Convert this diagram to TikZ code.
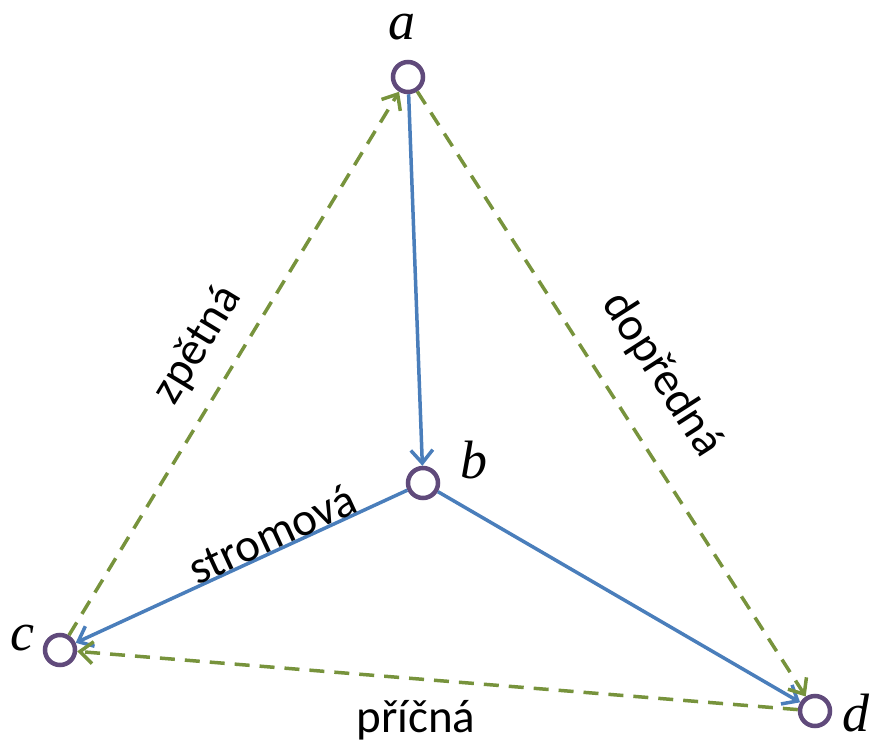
\documentclass[tikz,border=0pt]{standalone}
\usepackage{fontspec}
\setsansfont{Carlito}
\newfontfamily\labfont{Liberation Serif}
\usetikzlibrary{arrows.meta}
\definecolor{vpurple}{HTML}{604A7B}
\definecolor{eblue}{HTML}{4A7EBB}
\definecolor{egreen}{HTML}{77933C}
\begin{document}
\begin{tikzpicture}[x=1pt,y=-1pt,
  vert/.style={circle,draw=vpurple,fill=white,line width=4.5pt,minimum size=30pt,inner sep=0pt},
  vlab/.style={font=\labfont\itshape\fontsize{54}{60}\selectfont,inner sep=0pt},
  elab/.style={font=\sffamily\fontsize{47}{52}\selectfont,inner sep=0pt},
  tree/.style={draw=eblue,line width=3.5pt,-{Straight Barb[length=13pt,width=22pt,line width=3.5pt]}},
  other/.style={draw=egreen,line width=3.5pt,dash pattern=on 15pt off 10pt,-{Straight Barb[length=13pt,width=22pt,line width=3.5pt]}}]
\useasboundingbox (0,0) rectangle (872,741);
\node[vert] (a) at (408,77) {};
\node[vert] (b) at (423,483) {};
\node[vert] (c) at (60,650) {};
\node[vert] (d) at (815,711) {};
\node[vlab] (la) at (402,27) {a};
\node[vlab] (lb) at (474,460) {b};
\node[vlab] (lc) at (22,638) {c};
\node[vlab] (ld) at (856,713) {d};
\draw[tree] (a) -- (b);
\draw[tree] (b) -- (c);
\draw[tree] (b) -- (d);
\draw[other] (a) -- (d);
\draw[other] (c) -- (a);
\draw[other] (d) -- (c);
\node[elab,rotate=58.7] (tz) at (198,345) {zpětná};
\node[elab,rotate=-57.3] (td) at (662,375) {dopředná};
\node[elab,rotate=24.7] (ts) at (272,534) {stromová};
\node[elab] (tp) at (416,720) {příčná};
\end{tikzpicture}
\end{document}
